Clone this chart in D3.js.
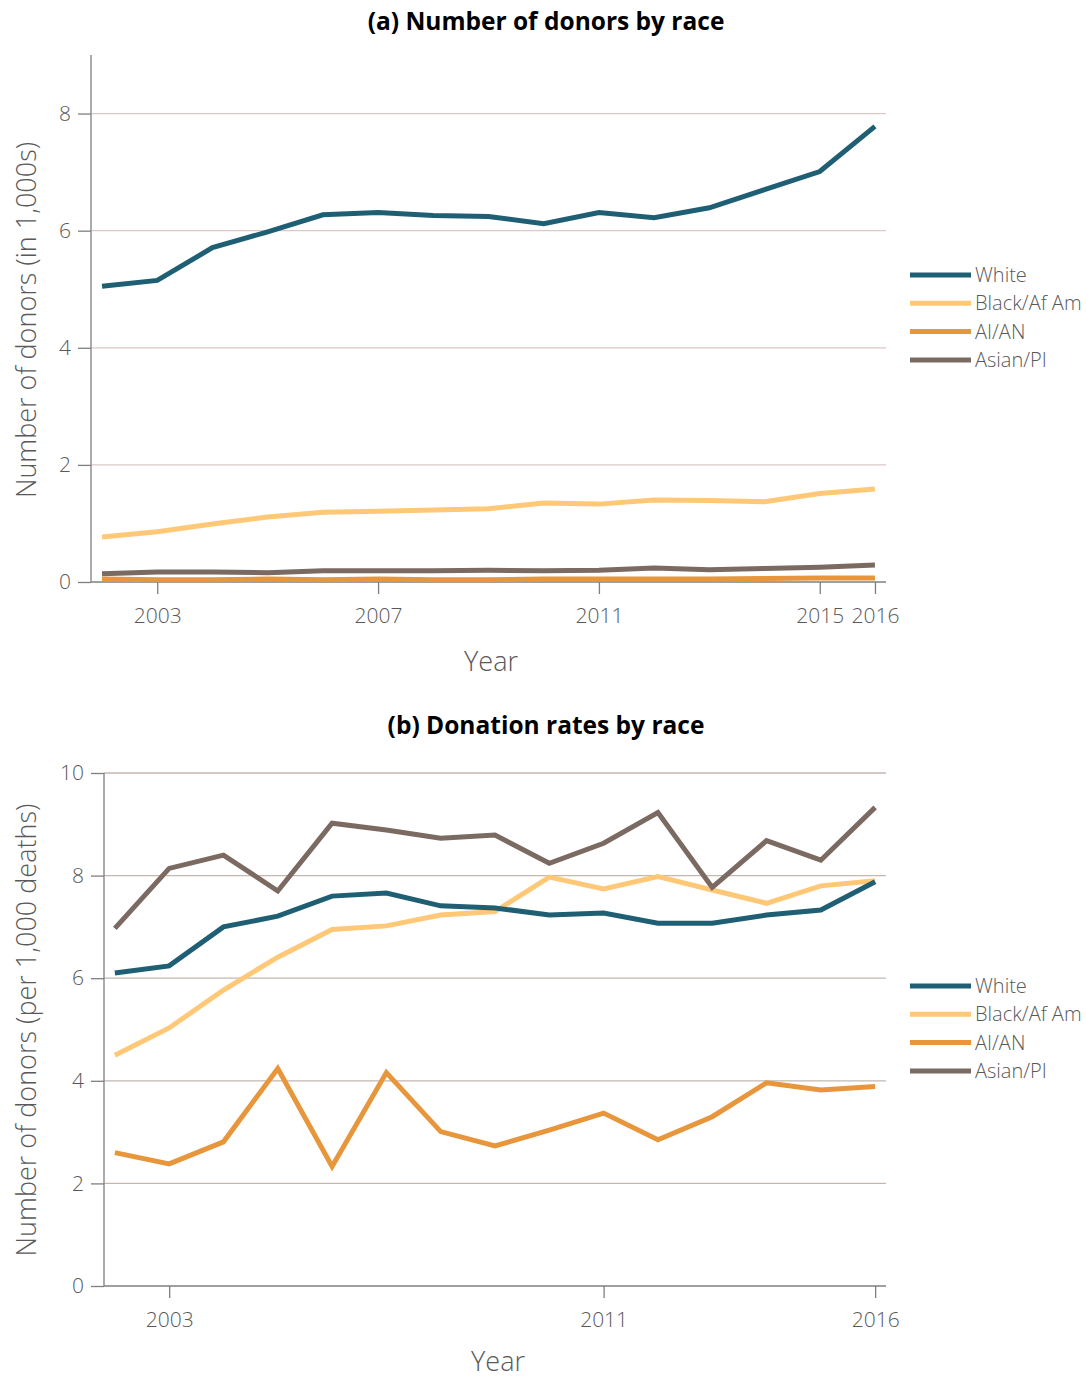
<!DOCTYPE html>
<html>
<head>
<meta charset="utf-8">
<script src="https://cdn.jsdelivr.net/npm/d3@7"></script>
<style>
  html, body { margin: 0; padding: 0; background: #fff; }
  svg { display: block; }
  .title { font-family: "Open Sans", Lato, sans-serif; font-weight: 700; font-size: 24.5px; fill: #000; }
  .tick text, .lbl { font-family: "Open Sans", Lato, sans-serif; font-weight: 300; fill: #595959; }
  .legend text { font-family: "Open Sans", Lato, sans-serif; font-weight: 300; font-size: 20px; fill: #595959; }
</style>
</head>
<body>
<svg id="chart" width="1086" height="1379"></svg>
<script>
// Years covered by both panels
const years = [2002, 2003, 2004, 2005, 2006, 2007, 2008, 2009, 2010, 2011, 2012, 2013, 2014, 2015, 2016];
const races = ["White", "Black/Af Am", "AI/AN", "Asian/PI"];
const colors = ["#1f5f74", "#fec877", "#e8963c", "#7b6a62"];

// (a) donors, in thousands
const donorsWhite = [5.05, 5.15, 5.71, 5.98, 6.27, 6.31, 6.26, 6.24, 6.12, 6.31, 6.22, 6.39, 6.70, 7.01, 7.78];
const donorsBlack = [0.77, 0.86, 0.99, 1.11, 1.19, 1.21, 1.23, 1.25, 1.35, 1.33, 1.40, 1.39, 1.37, 1.51, 1.59];
const donorsAIAN  = [0.05, 0.04, 0.04, 0.05, 0.04, 0.05, 0.04, 0.04, 0.05, 0.05, 0.05, 0.05, 0.06, 0.07, 0.07];
const donorsAsian = [0.14, 0.17, 0.17, 0.16, 0.19, 0.19, 0.19, 0.20, 0.19, 0.20, 0.24, 0.21, 0.23, 0.25, 0.29];

// (b) donors per 1,000 deaths
const ratesWhite = [6.10, 6.24, 7.00, 7.21, 7.60, 7.66, 7.41, 7.37, 7.23, 7.27, 7.07, 7.07, 7.23, 7.33, 7.88];
const ratesBlack = [4.50, 5.03, 5.77, 6.41, 6.95, 7.02, 7.23, 7.30, 7.97, 7.74, 7.98, 7.72, 7.46, 7.80, 7.90];
const ratesAIAN  = [2.60, 2.38, 2.81, 4.24, 2.33, 4.16, 3.01, 2.73, 3.04, 3.37, 2.85, 3.30, 3.96, 3.82, 3.89];
const ratesAsian = [6.97, 8.14, 8.40, 7.70, 9.02, 8.89, 8.73, 8.79, 8.24, 8.63, 9.23, 7.77, 8.68, 8.30, 9.33];

const ticksYA = [0, 2, 4, 6, 8];
const ticksYB = [0, 2, 4, 6, 8, 10];
const ticksXA = [2003, 2007, 2011, 2015, 2016];
const ticksXB = [2003, 2011, 2016];

const svg = d3.select("#chart");

function panel(cfg) {
  const g = svg.append("g");
  const x = d3.scaleLinear().domain([2001.8, 2016.2]).range([cfg.left, 886]);
  const y = d3.scaleLinear().domain(cfg.yDomain).range([cfg.bottom, cfg.top]);

  // title
  g.append("text").attr("class", "title")
    .attr("x", cfg.titleX).attr("y", cfg.titleY)
    .attr("text-anchor", "middle").text(cfg.title);

  // horizontal grid lines
  g.append("g").selectAll("line").data(cfg.yTicks.filter(d => d > 0)).join("line")
    .attr("x1", cfg.left).attr("x2", 886)
    .attr("y1", d => y(d)).attr("y2", d => y(d))
    .attr("stroke", cfg.gridColor).attr("stroke-width", 1.3);

  // y axis
  const yAxis = g.append("g").attr("transform", `translate(${cfg.left},0)`)
    .call(d3.axisLeft(y).tickValues(cfg.yTicks).tickSize(13).tickPadding(7).tickFormat(d3.format("d")));
  yAxis.select(".domain").remove();
  yAxis.selectAll(".tick line").attr("stroke", "#7f7f7f").attr("stroke-width", 1.3);
  yAxis.selectAll(".tick text").attr("font-size", 21);
  g.append("line").attr("x1", cfg.left).attr("x2", cfg.left)
    .attr("y1", y(cfg.yDomain[1])).attr("y2", cfg.bottom)
    .attr("stroke", "#7f7f7f").attr("stroke-width", 1.3);

  // x axis
  const xAxis = g.append("g").attr("transform", `translate(0,${cfg.bottom})`)
    .call(d3.axisBottom(x).tickValues(cfg.xTicks).tickSize(12).tickPadding(14).tickFormat(d3.format("d")));
  xAxis.select(".domain").attr("d", `M${cfg.left},0H886`).attr("stroke", "#7f7f7f").attr("stroke-width", 1.3);
  xAxis.selectAll(".tick line").attr("stroke", "#7f7f7f").attr("stroke-width", 1.3);
  xAxis.selectAll(".tick text").attr("font-size", 21);

  // axis titles
  g.append("text").attr("class", "lbl").attr("font-size", 27)
    .attr("x", cfg.xTitleX).attr("y", cfg.xTitleY).attr("text-anchor", "middle").text("Year");
  g.append("text").attr("class", "lbl").attr("font-size", 27)
    .attr("transform", `translate(36,${cfg.yTitleY}) rotate(-90)`)
    .attr("text-anchor", "middle").text(cfg.yTitle);

  // series lines
  const line = d3.line().x((d, i) => x(years[i])).y(d => y(d));
  const order = [2, 1, 3, 0];
  order.forEach(k => {
    g.append("path").datum(cfg.series[k])
      .attr("d", line).attr("fill", "none")
      .attr("stroke", colors[k]).attr("stroke-width", 5)
      .attr("stroke-linejoin", "miter");
  });

  // legend
  const lg = g.append("g").attr("class", "legend");
  races.forEach((r, i) => {
    const ly = cfg.legendY + i * 28.3;
    lg.append("line").attr("x1", 910).attr("x2", 971).attr("y1", ly).attr("y2", ly)
      .attr("stroke", colors[i]).attr("stroke-width", 5);
    lg.append("text").attr("x", 975).attr("y", ly + 7).text(r);
  });
}

panel({
  title: "(a) Number of donors by race", titleX: 546, titleY: 30,
  left: 91, top: 55, bottom: 582, yDomain: [0, 9],
  yTicks: ticksYA, xTicks: ticksXA, gridColor: "#dcc9c6",
  xTitleX: 491, xTitleY: 671, yTitle: "Number of donors (in 1,000s)", yTitleY: 320,
  series: [donorsWhite, donorsBlack, donorsAIAN, donorsAsian], legendY: 275
});

panel({
  title: "(b) Donation rates by race", titleX: 546, titleY: 734,
  left: 104, top: 773, bottom: 1286, yDomain: [0, 10],
  yTicks: ticksYB, xTicks: ticksXB, gridColor: "#c4b7b0",
  xTitleX: 498, xTitleY: 1371, yTitle: "Number of donors (per 1,000 deaths)", yTitleY: 1030,
  series: [ratesWhite, ratesBlack, ratesAIAN, ratesAsian], legendY: 986
});
</script>
</body>
</html>
